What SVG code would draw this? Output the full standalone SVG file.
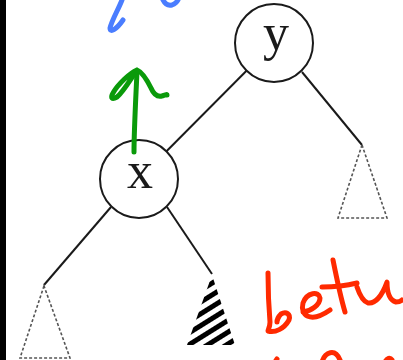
<svg xmlns="http://www.w3.org/2000/svg" width="403" height="360" viewBox="0 0 403 360">
<style>
.node{fill:#fff;stroke:#1a1a1a;stroke-width:2}
.lbl{font-family:"Liberation Serif","DejaVu Serif",serif;font-size:52px;fill:#1a1a1a;text-anchor:middle}
.edge{stroke:#1a1a1a;stroke-width:2;fill:none}
.sub{fill:none;stroke:#555;stroke-width:1.6;stroke-dasharray:3 2}
.ink{fill:none;stroke-width:5;stroke-linecap:round;stroke-linejoin:round}
</style>
<defs>
<pattern id="hatch" width="10" height="10" patternUnits="userSpaceOnUse" patternTransform="rotate(-32)">
<rect width="10" height="5" fill="#000"/>
</pattern>
</defs>
<rect width="403" height="360" fill="#fff"/>
<rect x="0" y="0" width="6" height="360" fill="#000"/>
<g id="connectors">
<line class="edge" x1="246.5" y1="70.7" x2="166.5" y2="151.3"/>
<line class="edge" x1="302" y1="72" x2="362" y2="145"/>
<line class="edge" x1="111" y1="207" x2="44" y2="285"/>
<line class="edge" x1="167" y1="207" x2="212" y2="274"/>
</g>
<g id="node-y">
<circle class="node" cx="274" cy="43" r="39"/>
<text class="lbl" x="276" y="50">y</text>
</g>
<g id="node-x">
<circle class="node" cx="139" cy="179" r="39"/>
<text class="lbl" x="140" y="188">x</text>
</g>
<g id="subtree-right">
<polygon class="sub" points="362,145 338,218 387,218"/>
</g>
<g id="subtree-left">
<polygon class="sub" points="44,286 20,358 70,358"/>
</g>
<g id="subtree-hatched">
<polygon points="212,275 187,345 235,345" fill="url(#hatch)"/>
</g>
<g id="annotations">
<path class="ink" stroke="#4a7dff" d="M122,0 C118,10 112,20 110,28 C110,33 116,30 123,20"/>
<path class="ink" stroke="#4a7dff" d="M163,0 C165,4 168,6 172,5 C175,4 177,2 178,0"/>
<path class="ink" stroke="#0a9a0a" d="M134,152 C134,130 136,95 137,71"/>
<path class="ink" stroke="#0a9a0a" d="M137,70 C130,73 118,84 113,93 C110,98 112,100 117,97 C123,92 130,80 137,70 C142,72 147,80 151,88 C154,95 158,97 162,96 C165,95 167,94 167,95"/>
<path class="ink" stroke="#ff2a00" d="M268,273 C268,290 269,310 270,322 C270,327 268,330 268,331 C275,333 284,329 289,320 C291,314 286,311 281,314 C278,317 277,321 277,322"/>
<path class="ink" stroke="#ff2a00" d="M303,312 C311,311 320,305 320,298 C319,291 307,292 303,303 C300,315 310,324 330,310"/>
<path class="ink" stroke="#ff2a00" d="M333,260 C336,275 340,295 345,312"/>
<path class="ink" stroke="#ff2a00" d="M322,287 C332,287 345,286 357,283"/>
<path class="ink" stroke="#ff2a00" d="M357,287 C359,293 362,301 368,303 C375,304 382,296 387,282 C387,290 389,300 396,302 C399,302 401,301 402,300"/>
<path class="ink" stroke="#ff2a00" d="M322,362 C325,352 335,348 340,360"/>
<path class="ink" stroke="#ff2a00" d="M275,362 L277,359"/>
<path class="ink" stroke="#ff2a00" d="M385,362 C387,358 390,357 392,360"/>
</g>
</svg>
